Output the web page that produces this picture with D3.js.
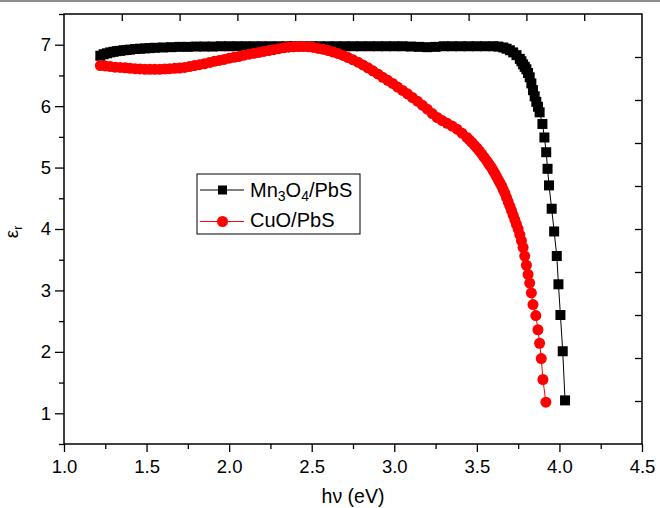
<!DOCTYPE html>
<html>
<head>
<meta charset="utf-8">
<script src="https://cdn.jsdelivr.net/npm/d3@7"></script>
<style>
  body { margin: 0; background: #fff; }
  svg { display: block; font-family: "Liberation Sans", Arial, sans-serif; }
</style>
</head>
<body>
<svg width="660" height="508"></svg>
<script>
// Mn3O4/PbS  [hv (eV), eps_r]
const mn3o4 = [
  [1.22, 6.82], [1.24, 6.845], [1.26, 6.86], [1.28, 6.875], [1.30, 6.885], [1.32, 6.895],
  [1.34, 6.90], [1.36, 6.91], [1.38, 6.915], [1.40, 6.92], [1.43, 6.93], [1.46, 6.935],
  [1.49, 6.94], [1.52, 6.945], [1.55, 6.95], [1.60, 6.955], [1.65, 6.96], [1.70, 6.965],
  [1.75, 6.965], [1.80, 6.97], [1.85, 6.97], [1.90, 6.97], [1.95, 6.975], [2.00, 6.975],
  [2.05, 6.975], [2.10, 6.975], [2.15, 6.975], [2.20, 6.975], [2.25, 6.975], [2.30, 6.975],
  [2.35, 6.975], [2.40, 6.975], [2.45, 6.975], [2.50, 6.975], [2.55, 6.975], [2.60, 6.975],
  [2.65, 6.975], [2.70, 6.975], [2.75, 6.975], [2.80, 6.975], [2.85, 6.975], [2.90, 6.975],
  [2.95, 6.975], [3.00, 6.975], [3.05, 6.975], [3.10, 6.97], [3.15, 6.965], [3.20, 6.96],
  [3.25, 6.965], [3.30, 6.975], [3.35, 6.975], [3.40, 6.975], [3.45, 6.975], [3.50, 6.975],
  [3.55, 6.975], [3.60, 6.975], [3.63, 6.97], [3.66, 6.955], [3.68, 6.935], [3.70, 6.91],
  [3.72, 6.875], [3.74, 6.83], [3.76, 6.77], [3.77, 6.73], [3.78, 6.68], [3.79, 6.64],
  [3.80, 6.60], [3.81, 6.54], [3.82, 6.47], [3.83, 6.37], [3.84, 6.26], [3.85, 6.16],
  [3.86, 6.07], [3.87, 5.99], [3.88, 5.90], [3.897, 5.71], [3.909, 5.49], [3.92, 5.25],
  [3.928, 4.98], [3.937, 4.71], [3.953, 4.33], [3.968, 3.96], [3.984, 3.56], [3.994, 3.10],
  [4.006, 2.60], [4.020, 2.01], [4.034, 1.21]
];

// CuO/PbS  [hv (eV), eps_r]
const cuo = [
  [1.22, 6.66], [1.25, 6.655], [1.28, 6.645], [1.31, 6.635], [1.34, 6.63], [1.37, 6.625],
  [1.40, 6.615], [1.43, 6.61], [1.46, 6.605], [1.49, 6.60], [1.52, 6.60], [1.55, 6.60],
  [1.58, 6.60], [1.61, 6.605], [1.64, 6.61], [1.67, 6.615], [1.70, 6.62], [1.73, 6.63],
  [1.76, 6.645], [1.79, 6.66], [1.82, 6.675], [1.85, 6.69], [1.88, 6.71], [1.91, 6.73],
  [1.94, 6.745], [1.97, 6.76], [2.00, 6.78], [2.03, 6.795], [2.06, 6.81], [2.09, 6.83],
  [2.12, 6.845], [2.15, 6.86], [2.18, 6.875], [2.21, 6.89], [2.24, 6.905], [2.27, 6.92],
  [2.30, 6.935], [2.33, 6.95], [2.36, 6.96], [2.39, 6.965], [2.42, 6.97], [2.45, 6.97],
  [2.48, 6.965], [2.51, 6.955], [2.54, 6.94], [2.57, 6.925], [2.60, 6.905], [2.63, 6.88],
  [2.66, 6.855], [2.69, 6.825], [2.72, 6.79], [2.75, 6.755], [2.78, 6.715], [2.81, 6.67],
  [2.84, 6.625], [2.87, 6.575], [2.90, 6.525], [2.93, 6.47], [2.96, 6.42], [2.99, 6.37],
  [3.02, 6.31], [3.05, 6.255], [3.08, 6.20], [3.11, 6.14], [3.14, 6.08], [3.17, 6.015],
  [3.20, 5.95], [3.23, 5.88], [3.26, 5.815], [3.29, 5.765], [3.32, 5.72], [3.35, 5.675],
  [3.38, 5.625], [3.41, 5.56], [3.44, 5.49], [3.455, 5.45], [3.47, 5.41], [3.485, 5.365],
  [3.50, 5.32], [3.515, 5.27], [3.53, 5.22], [3.545, 5.165], [3.56, 5.11], [3.57, 5.07],
  [3.58, 5.03], [3.59, 4.99], [3.60, 4.945], [3.61, 4.90], [3.62, 4.85], [3.63, 4.80],
  [3.64, 4.75], [3.65, 4.70], [3.66, 4.64], [3.67, 4.58], [3.68, 4.51], [3.69, 4.44],
  [3.70, 4.37], [3.71, 4.30], [3.72, 4.225], [3.73, 4.15], [3.74, 4.075], [3.75, 4.00],
  [3.76, 3.91], [3.77, 3.81], [3.78, 3.70], [3.79, 3.56], [3.80, 3.41], [3.81, 3.26],
  [3.82, 3.12], [3.83, 2.96], [3.84, 2.77], [3.857, 2.59], [3.87, 2.36], [3.88, 2.14],
  [3.89, 1.89], [3.90, 1.55], [3.918, 1.18]
];

const xTicks = [1.0, 1.5, 2.0, 2.5, 3.0, 3.5, 4.0, 4.5];
const xMinor = [1.25, 1.75, 2.25, 2.75, 3.25, 3.75, 4.25];
const yTicks = [1, 2, 3, 4, 5, 6, 7];
const yMinor = [0.5, 1.5, 2.5, 3.5, 4.5, 5.5, 6.5, 7.5];
const frameTicks = [1, 2, 3, 4, 5, 6, 7, 8, 9];

const svg = d3.select("svg");

const x = d3.scaleLinear().domain([1, 4.5]).range([64, 642]);
const y = d3.scaleLinear().domain([0.5, 7.5]).range([444, 14]);
// top and right frame ticks split the box into ten parts
const xTop = d3.scaleLinear().domain([0, 10]).range([64, 642]);
const yRight = d3.scaleLinear().domain([0, 10]).range([444, 14]);

// thin border line at the very top of the figure
svg.append("line")
    .attr("x1", 0).attr("x2", 660)
    .attr("y1", 1).attr("y2", 1)
    .attr("stroke", "#666").attr("stroke-width", 1.5);

const styleAxis = g => {
    g.select(".domain").remove();
    g.selectAll("line").attr("stroke", "#000").attr("stroke-width", 1.3);
    g.selectAll("text").attr("fill", "#000").style("font-size", "18.5px")
        .style("font-family", "'Liberation Sans', Arial, sans-serif");
};

svg.append("g")
    .attr("transform", "translate(0,444)")
    .call(d3.axisBottom(x).tickValues(xTicks).tickFormat(d3.format(".1f"))
        .tickSize(8).tickPadding(8))
    .call(styleAxis);

svg.append("g")
    .attr("transform", "translate(0,444)")
    .call(d3.axisBottom(x).tickValues(xMinor).tickFormat("").tickSize(5))
    .call(styleAxis);

svg.append("g")
    .attr("transform", "translate(64,0)")
    .call(d3.axisLeft(y).tickValues(yTicks).tickFormat(d3.format("d"))
        .tickSize(9).tickPadding(4))
    .call(styleAxis);

svg.append("g")
    .attr("transform", "translate(64,0)")
    .call(d3.axisLeft(y).tickValues(yMinor).tickFormat("").tickSize(5))
    .call(styleAxis);

svg.append("g")
    .attr("transform", "translate(0,14)")
    .call(d3.axisTop(xTop).tickValues(frameTicks).tickFormat("").tickSize(-7))
    .call(styleAxis);

svg.append("g")
    .attr("transform", "translate(642,0)")
    .call(d3.axisRight(yRight).tickValues(frameTicks).tickFormat("").tickSize(-7))
    .call(styleAxis);

// frame
svg.append("rect")
    .attr("x", x(1)).attr("y", y(7.5))
    .attr("width", x(4.5) - x(1)).attr("height", y(0.5) - y(7.5))
    .attr("fill", "none").attr("stroke", "#000").attr("stroke-width", 1.5);

const line = d3.line().x(d => x(d[0])).y(d => y(d[1]));

// Mn3O4/PbS
svg.append("path").datum(mn3o4)
    .attr("d", line).attr("fill", "none")
    .attr("stroke", "#000").attr("stroke-width", 1);

const sq = 10;
svg.append("g").selectAll("rect")
    .data(mn3o4).enter().append("rect")
    .attr("x", d => x(d[0]) - sq / 2)
    .attr("y", d => y(d[1]) - sq / 2)
    .attr("width", sq).attr("height", sq)
    .attr("fill", "#000");

// CuO/PbS
svg.append("path").datum(cuo)
    .attr("d", line).attr("fill", "none")
    .attr("stroke", "#f00").attr("stroke-width", 1);

svg.append("g").selectAll("circle")
    .data(cuo).enter().append("circle")
    .attr("cx", d => x(d[0]))
    .attr("cy", d => y(d[1]))
    .attr("r", 5.5)
    .attr("fill", "#f00");

// axis titles
svg.append("text")
    .attr("x", 353).attr("y", 503)
    .attr("text-anchor", "middle")
    .style("font-size", "19.5px")
    .text("hν (eV)");

const yl = svg.append("text")
    .attr("transform", "translate(18,232) rotate(-90)")
    .attr("text-anchor", "middle")
    .style("font-size", "19px");
yl.append("tspan").text("ε");
yl.append("tspan").attr("dy", 4).style("font-size", "12px").text("r");

// legend
const legend = svg.append("g");
legend.append("rect")
    .attr("x", 197).attr("y", 174)
    .attr("width", 163).attr("height", 60)
    .attr("fill", "#fff").attr("stroke", "#000").attr("stroke-width", 1);

const legendRows = [
    { y: 190, color: "#000", shape: "square" },
    { y: 221.5, color: "#f00", shape: "circle" }
];

legendRows.forEach(r => {
    legend.append("line")
        .attr("x1", 200).attr("x2", 244)
        .attr("y1", r.y).attr("y2", r.y)
        .attr("stroke", r.color).attr("stroke-width", 1);
    if (r.shape === "square") {
        legend.append("rect")
            .attr("x", 218).attr("y", r.y - 4.5)
            .attr("width", 9).attr("height", 9)
            .attr("fill", r.color);
    } else {
        legend.append("circle")
            .attr("cx", 222.5).attr("cy", r.y).attr("r", 5.5)
            .attr("fill", r.color);
    }
});

const t1 = legend.append("text")
    .attr("x", 250).attr("y", 197)
    .style("font-size", "20px");
t1.append("tspan").text("Mn");
t1.append("tspan").attr("dy", 4).style("font-size", "14px").text("3");
t1.append("tspan").attr("dy", -4).text("O");
t1.append("tspan").attr("dy", 4).style("font-size", "14px").text("4");
t1.append("tspan").attr("dy", -4).text("/PbS");

legend.append("text")
    .attr("x", 250).attr("y", 227)
    .style("font-size", "20px")
    .text("CuO/PbS");
</script>
</body>
</html>
